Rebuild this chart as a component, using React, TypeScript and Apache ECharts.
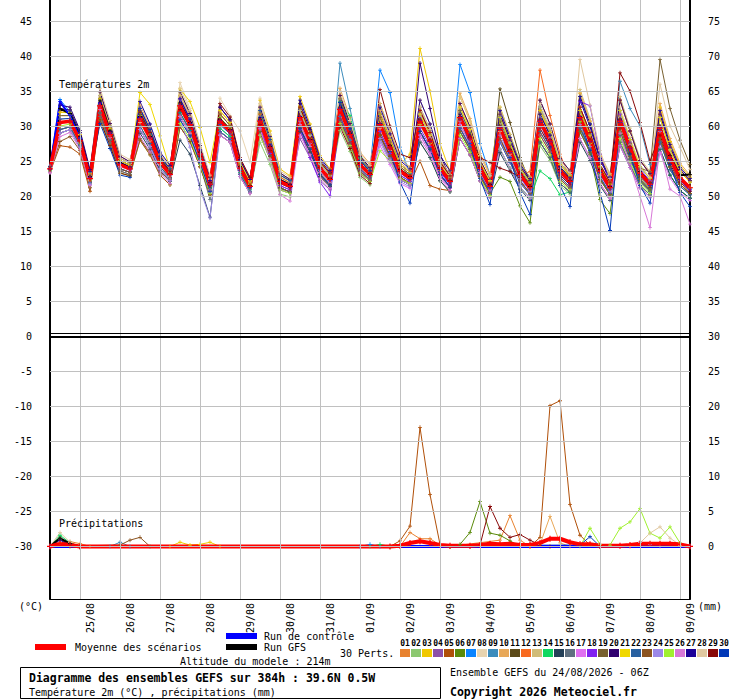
import React, { useEffect, useRef } from "react";
import * as echarts from "echarts";

const FONT = '"DejaVu Sans Mono", "Liberation Mono", monospace';

// x axis: 65 steps of 6h from 24/08 06Z
const dates = ["25/08","26/08","27/08","28/08","29/08","30/08","31/08","01/09","02/09","03/09","04/09","05/09","06/09","07/09","08/09","09/09"];

// horizontal grid values on the temperature axis
const tempGrid = [45,40,35,30,25,20,15,10,5,-5,-10,-15,-20,-25,-30];

const pertColors = ["#e8822f","#8cc870","#f0c800","#8c50a8","#b04f08","#5a8a0a","#0a84ff","#e8d4b0","#3c8cbc","#e8a858","#5c4a18","#f86a20","#d0bc78","#10d860","#244058","#607080","#e070f0","#8020f0","#786030","#300070","#f0d800","#2860a0","#8c5420","#9c88e8","#a0f030","#d878d8","#1c0098","#e0c8a0","#880808","#0038b8"];

// ---- Temperature 2m (°C) ----
const tMean = [23.9, 30.5,30.7,27.9,22.5, 32.9,28.8,24.5,23.9, 31.0,28.3,24.8,23.1, 32.9,30.2,26.0,21.7, 30.7,29.3,24.0,21.4, 30.7,26.9,22.1,21.4, 31.2,27.9,24.0,22.4, 32.4,28.8,24.5,23.1, 30.2,26.9,23.6,22.6, 30.7,27.9,24.0,22.1, 31.2,28.3,24.0,21.4, 29.7,26.4,23.1,21.2, 30.7,27.9,23.6,22.1, 31.2,27.9,23.6,21.2, 30.7,26.9,23.3,21.7, 29.7,25.4,22.6,21.2];
const tCtrl = [23.9, 33.5,31.5,28.3,22.6, 33.2,29.0,24.6,23.9, 31.2,28.4,24.9,23.1, 33.0,30.3,26.0,21.6, 30.8,29.4,24.0,21.3, 30.8,26.9,22.0,21.3, 31.3,27.9,23.9,22.3, 32.5,28.8,24.4,23.0, 30.3,26.9,23.5,22.4, 30.8,27.8,23.8,21.9, 31.3,28.2,23.8,21.2, 29.8,26.3,22.9,21.0, 30.8,27.8,23.4,21.9, 31.3,27.8,23.4,21.0, 30.8,26.8,23.1,21.5, 29.8,25.2,22.4,20.9];
const tGfs = [24.0, 32.5,31.8,28.5,22.8, 33.6,29.3,24.8,24.0, 31.4,28.5,25.0,23.3, 33.3,30.5,26.3,21.9, 31.0,29.5,24.2,21.5, 31.0,27.1,22.3,21.6, 31.4,28.1,24.1,22.5, 32.7,29.0,24.6,23.2, 30.4,27.2,23.8,22.8, 31.0,28.0,24.1,22.3, 31.4,28.4,24.1,21.6, 30.0,26.6,23.3,21.4, 31.0,28.0,23.8,22.3, 31.4,28.0,23.8,21.4, 31.0,27.0,23.5,21.9, 30.0,25.8,23.0,23.1];

const t01 = [24.0, 32.0,31.9,28.8,23.3, 34.9,30.4,25.7,24.9, 32.0,29.1,25.4,23.6, 34.4,31.4,26.9,22.5, 32.7,30.9,25.2,22.4, 32.2,28.1,23.0,22.2, 30.2,27.1,23.4,21.9, 33.9,30.0,25.4,23.9, 33.2,29.3,25.4,24.1, 32.2,29.1,24.9,22.9, 31.2,28.3,24.0,21.4, 31.7,28.0,24.3,22.2, 33.7,30.3,25.4,23.6, 32.7,29.1,24.5,22.0, 29.2,25.7,22.4,20.9, 31.2,26.6,23.5,22.0];
const t02 = [23.6, 29.0,29.5,27.0,21.7, 30.9,27.2,23.3,22.9, 28.0,25.9,23.0,21.6, 31.4,29.0,25.1,20.9, 29.2,28.1,23.1,20.6, 27.7,24.5,20.3,19.9, 29.7,26.7,23.1,21.6, 29.4,26.4,22.7,21.6, 28.2,25.3,22.4,21.6, 27.7,25.5,22.2,20.6, 29.7,27.1,23.1,20.6, 26.7,24.0,21.3,19.7, 27.2,25.1,21.5,20.3, 28.2,25.5,21.8,19.7, 28.7,25.3,22.1,20.7, 26.7,23.0,20.8,19.7];
const t03 = [24.2, 32.5,32.3,29.1,23.5, 34.4,30.0,25.4,24.7, 32.5,29.5,25.7,23.9, 34.9,31.8,27.2,22.7, 32.2,30.5,24.9,22.2, 33.7,29.3,23.9,22.9, 34.2,30.3,25.8,23.9, 34.4,30.4,25.7,24.1, 31.7,28.1,24.5,26.0, 41.1,35.0,27.5,23.5, 34.2,30.7,25.8,22.9, 32.7,28.8,24.9,22.7, 32.7,29.5,24.8,23.1, 34.7,30.7,25.7,23.0, 33.7,29.3,25.1,23.2, 32.7,27.8,24.4,22.7];
const t04 = [23.5, 29.5,29.9,27.3,22.0, 31.9,28.0,23.9,23.4, 29.5,27.1,23.9,22.3, 30.9,28.6,24.8,20.7, 28.7,27.7,22.8,20.4, 29.7,26.1,21.5,20.9, 28.2,25.5,22.2,20.9, 33.4,29.6,25.1,23.6, 28.7,25.7,22.7,21.8, 28.7,26.3,22.8,21.1, 30.2,27.5,23.4,20.9, 28.2,25.2,22.2,20.4, 30.7,27.9,23.6,22.1, 32.2,28.7,24.2,21.7, 29.2,25.7,22.4,20.9, 28.2,24.2,21.7,20.4];
const t05 = [23.4, 27.2,27.0,26.0,20.7, 31.4,27.6,23.6,23.1, 28.0,25.9,23.0,21.6, 29.9,27.8,24.2,20.2, 29.2,28.1,23.1,20.6, 29.2,25.7,21.2,20.6, 29.2,26.3,22.8,21.4, 30.4,27.2,23.3,22.1, 28.7,25.7,22.7,21.8, 25.0,21.5,21.0,20.8, 28.2,25.9,22.2,19.9, 28.2,25.2,22.2,20.4, 29.2,26.7,22.7,21.3, 29.2,26.3,22.4,20.2, 28.7,25.3,22.1,20.7, 28.2,24.2,21.7,20.4];
const t06 = [23.8, 30.5,30.7,27.9,22.5, 33.9,29.6,25.1,24.4, 31.0,28.3,24.8,23.1, 31.4,29.0,25.1,20.9, 30.7,29.3,24.0,21.4, 31.7,27.7,22.7,21.9, 30.2,27.1,23.4,21.9, 31.4,28.0,23.9,22.6, 28.7,25.7,22.7,21.8, 29.2,26.7,23.1,21.3, 29.2,26.7,22.8,20.4, 22.7,22.1,18.6,16.2, 27.7,25.5,21.8,20.6, 30.5,26.0,19.5,17.5, 27.7,24.5,21.5,20.2, 28.2,24.2,21.7,20.4];
const t07 = [24.3, 33.8,32.0,28.8,23.4, 34.4,30.0,25.4,24.7, 32.0,29.1,25.4,23.6, 33.9,31.0,26.6,22.2, 31.7,30.1,24.6,21.9, 32.2,28.1,23.0,22.2, 32.2,28.7,24.6,22.9, 33.9,30.0,25.4,23.9, 38.0,34.8,27.0,23.2, 32.2,29.1,24.9,22.9, 38.8,34.8,27.5,23.0, 31.2,27.6,24.0,22.0, 32.7,29.5,24.8,23.1, 34.2,30.3,25.4,22.7, 32.2,28.1,24.2,22.5, 31.2,26.6,23.5,22.0];
const t08 = [24.1, 31.5,31.5,28.5,23.0, 33.9,29.6,25.1,24.4, 32.5,29.5,25.7,23.9, 36.2,32.5,27.5,22.4, 34.0,31.5,29.3,24.9, 34.0,28.5,23.0,22.0, 32.2,28.7,24.6,22.9, 33.9,30.0,25.4,23.9, 31.2,27.7,24.2,23.1, 32.2,29.1,24.9,22.9, 32.7,29.5,24.9,22.2, 31.7,28.0,24.3,22.2, 31.7,28.7,24.2,22.6, 32.7,29.1,24.5,22.0, 32.7,28.5,24.5,22.7, 31.7,27.0,23.8,22.2];
const t09 = [23.9, 30.5,30.7,27.9,22.5, 32.9,28.8,24.5,23.9, 32.0,29.1,25.4,23.6, 32.9,30.2,26.0,21.7, 29.7,28.5,23.4,20.9, 30.7,26.9,22.1,21.4, 32.2,28.7,24.6,22.9, 39.0,32.5,26.0,23.5, 31.7,28.1,24.5,23.4, 31.7,28.7,24.6,22.6, 32.2,29.1,24.6,21.9, 31.2,27.6,24.0,22.0, 30.7,27.9,23.6,22.1, 32.2,28.7,24.2,21.7, 36.4,32.5,30.0,24.5, 29.7,25.4,22.6,21.2];
const t10 = [24.0, 31.5,31.5,28.5,23.0, 34.4,30.0,25.4,24.7, 33.0,29.9,26.0,24.1, 33.9,31.0,26.6,22.2, 31.7,30.1,24.6,21.9, 32.7,28.5,23.3,22.4, 32.7,29.1,24.9,23.2, 35.4,31.2,26.3,24.6, 32.2,28.5,24.8,23.6, 33.7,30.3,25.8,23.6, 34.7,31.1,26.1,23.2, 31.7,28.0,24.3,22.2, 32.2,29.1,24.5,22.9, 34.7,30.7,25.7,23.0, 33.7,29.3,25.1,23.2, 33.2,28.2,24.7,23.0];
const t11 = [23.8, 30.5,30.7,27.9,22.5, 33.9,29.6,25.1,24.4, 30.0,27.5,24.2,22.6, 31.9,29.4,25.4,21.2, 30.7,29.3,24.0,21.4, 29.2,25.7,21.2,20.6, 29.7,26.7,23.1,21.6, 31.4,28.0,23.9,22.6, 28.7,25.7,22.7,21.8, 30.7,27.9,24.0,22.1, 29.7,27.1,23.1,20.6, 35.3,30.5,25.5,22.0, 31.7,28.7,24.2,22.6, 29.7,26.7,22.7,20.4, 29.7,26.1,22.7,21.2, 29.7,25.4,22.6,21.2];
const t12 = [23.9, 29.5,29.9,27.3,22.0, 32.9,28.8,24.5,23.9, 32.0,29.1,25.4,23.6, 31.4,29.0,25.1,20.9, 31.7,30.1,24.6,21.9, 31.7,27.7,22.7,21.9, 32.7,29.1,24.9,23.2, 34.4,30.4,25.7,24.1, 31.2,27.7,24.2,23.1, 32.2,29.1,24.9,22.9, 33.2,29.9,25.2,22.4, 29.6,26.4,23.0,23.5, 38.0,31.5,26.0,22.5, 32.7,29.1,24.5,22.0, 33.7,29.3,25.1,23.2, 31.7,27.0,23.8,22.2];
const t13 = [24.0, 31.5,31.5,28.5,23.0, 34.4,30.0,25.4,24.7, 31.0,28.3,24.8,23.1, 34.4,31.4,26.9,22.5, 32.2,30.5,24.9,22.2, 32.7,28.5,23.3,22.4, 32.2,28.7,24.6,22.9, 33.9,30.0,25.4,23.9, 33.2,29.3,25.4,24.1, 31.7,28.7,24.6,22.6, 32.7,29.5,24.9,22.2, 32.7,28.8,24.9,22.7, 32.7,29.5,24.8,23.1, 35.2,31.1,26.0,23.2, 34.2,29.7,25.4,23.5, 31.2,26.6,23.5,22.0];
const t14 = [23.7, 29.0,29.5,27.0,21.7, 31.9,28.0,23.9,23.4, 29.5,27.1,23.9,22.3, 31.9,29.4,25.4,21.2, 29.7,28.5,23.4,20.9, 29.2,25.7,21.2,20.6, 29.7,26.7,23.1,21.6, 33.5,31.5,25.5,23.0, 28.2,25.3,22.4,21.6, 29.2,26.7,23.1,21.3, 29.2,26.7,22.8,20.4, 26.7,24.0,21.3,19.7, 23.6,22.5,20.2,20.6, 29.2,26.3,22.4,20.2, 29.2,25.7,22.4,20.9, 26.7,23.0,20.8,19.7];
const t15 = [23.6, 29.0,29.5,27.0,21.7, 31.9,28.0,23.9,23.4, 29.0,26.7,23.6,22.1, 28.0,26.0,21.5,17.0, 29.2,28.1,23.1,20.6, 28.7,25.3,20.9,20.4, 29.2,26.3,22.8,21.4, 30.9,27.6,23.6,22.3, 28.2,25.3,22.4,21.6, 27.7,25.5,22.2,20.6, 28.2,25.9,22.2,19.9, 26.2,23.6,21.0,19.4, 27.7,25.5,21.8,20.6, 27.7,25.1,21.5,19.4, 27.2,24.1,21.2,19.9, 26.7,23.0,20.8,19.7];
const t16 = [23.7, 29.5,29.9,27.3,22.0, 31.4,27.6,23.6,23.1, 29.5,27.1,23.9,22.3, 31.5,28.8,24.5,19.5, 29.2,28.1,23.1,20.6, 29.2,25.7,21.2,20.6, 29.7,26.7,23.1,21.6, 30.4,27.2,23.3,22.1, 29.2,26.1,23.0,22.1, 29.2,26.7,23.1,21.3, 29.2,26.7,22.8,20.4, 28.2,25.2,22.2,20.4, 27.7,25.5,21.8,20.6, 29.7,26.7,22.7,20.4, 27.7,24.5,21.5,20.2, 27.7,23.8,21.4,20.2];
const t17 = [23.4, 29.0,29.5,27.0,21.7, 31.9,28.0,23.9,23.4, 29.5,27.1,23.9,22.3, 31.4,29.0,25.1,20.9, 29.2,28.1,23.1,20.6, 28.7,25.3,20.9,20.4, 30.2,27.1,23.4,21.9, 31.4,28.0,23.9,22.6, 27.2,24.5,21.8,21.1, 28.7,26.3,22.8,21.1, 28.2,25.9,22.2,19.9, 27.7,24.8,21.9,20.2, 28.7,26.3,22.4,21.1, 28.2,25.5,21.8,19.7, 27.2,24.1,21.2,19.9, 26.2,22.6,20.5,19.4];
const t18 = [23.8, 30.5,30.7,27.9,22.5, 32.9,28.8,24.5,23.9, 31.0,28.3,24.8,23.1, 33.9,31.0,26.6,22.2, 30.7,29.3,24.0,21.4, 29.7,26.1,21.5,20.9, 29.5,25.5,22.0,20.0, 30.9,27.6,23.6,22.3, 29.2,26.1,23.0,22.1, 29.7,27.1,23.4,21.6, 29.7,27.1,23.1,20.6, 29.7,26.4,23.1,21.2, 30.7,27.9,23.6,22.1, 33.5,32.9,26.0,21.5, 31.7,27.7,23.9,22.2, 29.7,25.4,22.6,21.2];
const t19 = [23.9, 31.5,31.5,28.5,23.0, 33.9,29.6,25.1,24.4, 32.0,29.1,25.4,23.6, 32.9,30.2,26.0,21.7, 31.7,30.1,24.6,21.9, 30.7,26.9,22.1,21.4, 32.7,29.1,24.9,23.2, 33.9,30.0,25.4,23.9, 31.2,27.7,24.2,23.1, 32.7,29.5,25.2,23.1, 32.2,29.1,24.6,21.9, 30.7,27.2,23.7,21.7, 32.2,29.1,24.5,22.9, 32.2,28.7,24.2,21.7, 31.0,27.5,24.0,23.5, 39.5,32.5,28.0,24.5];
const t20 = [24.1, 33.0,32.7,29.4,23.8, 34.9,30.4,25.7,24.9, 32.5,29.5,25.7,23.9, 34.9,31.8,27.2,22.7, 32.7,30.9,25.2,22.4, 32.7,28.5,23.3,22.4, 33.2,29.5,25.2,23.4, 34.4,30.4,25.7,24.1, 31.7,28.1,24.5,23.4, 39.0,32.5,26.0,22.6, 33.2,29.9,25.2,22.4, 31.7,28.0,24.3,22.2, 33.7,30.3,25.4,23.6, 34.2,30.3,25.4,22.7, 33.7,29.3,25.1,23.2, 31.7,27.0,23.8,22.2];
const t21 = [24.2, 32.0,31.9,28.8,23.3, 33.9,29.6,25.1,24.4, 34.8,33.1,28.6,23.9, 35.3,33.5,29.8,24.8, 32.2,30.5,24.9,22.2, 32.2,28.1,23.0,22.2, 32.7,29.1,24.9,23.2, 33.4,29.6,25.1,23.6, 31.7,28.1,24.5,23.4, 31.7,28.7,24.6,22.6, 32.7,29.5,24.9,22.2, 31.2,27.6,24.0,22.0, 32.2,29.1,24.5,22.9, 32.2,28.7,24.2,21.7, 32.2,28.1,24.2,22.5, 31.2,26.6,23.5,22.0];
const t22 = [23.8, 29.5,29.9,27.3,22.0, 31.9,28.0,23.9,23.4, 30.0,27.5,24.2,22.6, 31.9,29.4,25.4,21.2, 29.2,28.1,23.1,20.6, 29.2,25.7,21.2,20.6, 29.7,26.7,23.1,21.6, 31.4,28.0,23.9,22.6, 28.2,25.3,22.4,21.6, 29.2,26.7,23.1,21.3, 29.7,27.1,23.1,20.6, 27.7,24.8,21.9,20.2, 29.2,26.7,22.7,21.3, 29.7,26.7,22.7,20.4, 28.7,25.3,22.1,20.7, 27.7,23.8,21.4,20.2];
const t23 = [23.5, 27.8,28.5,26.5,21.2, 31.9,28.0,23.9,23.4, 28.2,26.2,23.4,22.4, 29.9,27.8,24.2,20.2, 28.7,27.7,22.8,20.4, 29.2,25.7,21.2,20.6, 29.7,26.7,23.1,21.6, 30.9,27.6,23.6,22.3, 28.7,25.7,22.7,21.8, 29.2,26.7,23.1,21.3, 29.2,26.7,22.8,20.4, 28.2,25.2,22.2,20.4, 28.7,26.3,22.4,21.1, 29.2,26.3,22.4,20.2, 29.2,25.7,22.4,20.9, 28.2,24.2,21.7,20.4];
const t24 = [23.5, 29.0,29.5,27.0,21.7, 33.4,29.2,24.8,24.2, 29.5,27.1,23.9,22.3, 31.0,27.0,21.0,16.9, 28.7,27.7,22.8,20.4, 31.2,27.3,22.4,21.7, 30.7,27.5,23.7,22.2, 32.4,28.8,24.5,23.1, 27.7,24.9,22.1,21.3, 31.2,28.3,24.3,22.4, 30.7,27.9,23.7,21.2, 28.7,25.6,22.5,20.7, 31.2,28.3,23.9,22.4, 30.2,27.1,23.0,20.7, 30.7,26.9,23.3,21.7, 29.2,25.0,22.3,21.0];
const t25 = [23.6, 30.0,30.3,27.6,22.3, 30.9,27.2,23.3,22.9, 31.5,28.7,25.1,23.4, 30.4,28.2,24.5,20.4, 31.2,29.7,24.3,21.7, 28.7,25.3,20.9,20.4, 31.2,27.9,24.0,22.4, 30.4,27.2,23.3,22.1, 26.5,25.0,22.5,21.8, 30.2,27.5,23.7,21.9, 28.7,26.3,22.5,20.1, 29.7,26.4,23.1,21.2, 28.2,25.9,22.1,20.9, 30.7,27.5,23.3,21.0, 28.2,24.9,21.8,20.4, 29.7,25.4,22.6,21.2];
const t26 = [23.3, 28.5,29.1,26.7,21.5, 32.4,28.4,24.2,23.7, 28.5,26.3,23.3,21.8, 32.9,30.2,26.0,21.7, 28.7,27.7,22.8,20.4, 29.6,25.2,20.2,19.3, 28.7,25.9,22.5,21.1, 32.4,28.8,24.5,23.1, 28.2,25.3,22.4,21.6, 28.2,25.9,22.5,20.8, 30.2,27.5,23.4,20.9, 26.7,24.0,21.3,19.7, 29.7,27.1,23.0,21.6, 28.2,25.5,21.8,19.7, 29.0,24.5,20.0,15.5, 27.0,21.0,20.0,16.0];
const t27 = [24.2, 32.5,32.3,29.1,23.5, 33.4,29.2,24.8,24.2, 33.5,30.3,26.3,24.4, 33.9,31.0,26.6,22.2, 32.7,30.9,25.2,22.4, 31.2,27.3,22.4,21.7, 33.7,29.9,25.5,23.7, 33.4,29.6,25.1,23.6, 32.7,28.9,25.1,23.9, 33.7,30.3,25.8,23.6, 31.7,28.7,24.3,21.7, 32.2,28.4,24.6,22.5, 31.7,28.7,24.2,22.6, 33.7,29.9,25.1,22.5, 31.2,27.3,23.6,22.0, 32.2,27.4,24.1,22.5];
const t28 = [24.1, 31.0,31.1,28.2,22.8, 35.4,30.8,26.0,25.2, 30.5,27.9,24.5,22.8, 35.4,32.2,27.5,23.0, 30.2,28.9,23.7,21.2, 33.2,28.9,23.6,22.7, 31.2,27.9,24.0,22.4, 34.9,30.8,26.0,24.4, 29.7,26.5,23.3,22.4, 32.7,29.5,25.2,23.1, 34.2,30.7,25.8,22.9, 29.2,26.0,22.8,21.0, 33.2,29.9,25.1,23.4, 39.5,33.0,26.5,22.5, 31.2,27.3,23.6,22.0, 36.0,30.0,27.0,23.8];
const t29 = [23.9, 30.5,30.7,27.9,22.5, 30.9,27.2,23.3,22.9, 32.0,29.1,25.4,23.6, 32.4,29.8,25.7,21.5, 33.2,31.3,25.5,22.7, 30.2,26.5,21.8,21.2, 32.7,29.1,24.9,23.2, 29.9,26.8,23.0,21.8, 35.2,30.0,26.0,25.5, 32.2,29.1,24.9,22.9, 31.3,28.5,25.5,24.8, 24.0,23.5,22.7,21.4, 29.7,27.1,23.0,21.6, 32.7,29.1,24.5,22.0, 37.6,35.0,30.5,25.0, 28.7,24.6,22.0,20.7];
const t30 = [23.8, 31.0,31.1,28.2,22.8, 30.4,26.8,23.0,22.7, 32.5,29.5,25.7,23.9, 30.9,28.6,24.8,20.7, 30.2,28.9,23.7,21.2, 32.2,28.1,23.0,22.2, 29.7,26.7,23.1,21.6, 33.4,29.6,25.1,23.6, 30.0,26.4,22.0,19.0, 29.2,26.7,23.1,21.3, 31.0,27.5,22.5,18.8, 29.5,25.5,20.5,17.4, 30.5,27.0,21.5,18.5, 31.0,26.5,20.5,15.1, 30.5,26.0,21.5,19.0, 29.5,24.5,20.5,18.5];

// ---- Precipitation (mm), [step index, value] with zeros between ----
const rMean = [[0,0],[1,0.4],[2,0.2],[3,0],[34,0],[35,0.1],[36,0.5],[37,0.75],[38,0.5],[39,0.2],[40,0.1],[42,0.1],[43,0.2],[44,0.4],[45,0.3],[46,0.4],[47,0.2],[48,0.2],[49,0.5],[50,1.1],[51,1.1],[52,0.6],[53,0.3],[54,0.3],[55,0.1],[57,0.1],[58,0.2],[59,0.4],[60,0.4],[61,0.4],[62,0.4],[63,0.3],[64,0]];
const rCtrl = [[0,0],[64,0]];
const rGfs = [[0,0],[1,1.2],[2,0.4],[3,0],[64,0]];
const r01 = [[0,0],[1,0.5],[2,0.7],[3,0.4],[4,0],[35,0],[36,2.0],[37,1.1],[38,1.1],[39,0.2],[40,0],[45,0.9],[46,4.4],[47,0.9],[48,0],[64,0]];
const r02 = [[0,0],[64,0]];
const r03 = [[0,0],[12,0],[13,0.6],[14,0.2],[15,0.3],[16,0.6],[17,0],[64,0]];
const r04 = [[0,0],[64,0]];
const r05 = [[0,0],[34,0],[35,0.8],[36,2.9],[37,17.0],[38,7.4],[39,0.3],[40,0],[48,0],[49,1.3],[50,20.1],[51,20.8],[52,6.0],[53,1.6],[54,0.2],[55,0],[64,0]];
const r06 = [[0,0],[1,1.2],[2,0],[40,0],[41,0.3],[42,2.0],[43,6.4],[44,1.9],[45,1.6],[46,0.8],[47,0],[64,0]];
const r07 = [[0,0],[31,0],[32,0.3],[33,0],[64,0]];
const r08 = [[0,0],[64,0]];
const r09 = [[0,0],[6,0],[7,0.6],[8,0],[64,0]];
const r10 = [[0,0],[48,0],[49,0.3],[50,4.3],[51,0.5],[52,0],[64,0]];
const r11 = [[0,0],[1,1.0],[2,0.3],[3,0],[64,0]];
const r12 = [[0,0],[64,0]];
const r13 = [[0,0],[64,0]];
const r14 = [[0,0],[1,1.6],[2,0.5],[3,0],[32,0],[33,0.3],[34,0],[64,0]];
const r15 = [[0,0],[64,0]];
const r16 = [[0,0],[64,0]];
const r17 = [[0,0],[64,0]];
const r18 = [[0,0],[64,0]];
const r19 = [[0,0],[64,0]];
const r20 = [[0,0],[64,0]];
const r21 = [[0,0],[64,0]];
const r22 = [[0,0],[64,0]];
const r23 = [[0,0],[7,0.2],[8,0.9],[9,1.3],[10,0],[64,0]];
const r24 = [[0,0],[58,0],[59,0.6],[60,0.3],[61,0],[64,0]];
const r25 = [[0,0],[53,0],[54,2.6],[55,0.3],[56,0.2],[57,2.6],[58,3.5],[59,5.4],[60,1.9],[61,1.2],[62,2.8],[63,0.5],[64,0]];
const r26 = [[0,0],[64,0]];
const r27 = [[0,0],[1,0.9],[2,0.2],[3,0],[64,0]];
const r28 = [[0,0],[1,2.0],[2,0.6],[3,0],[58,0],[59,0.5],[60,1.9],[61,2.8],[62,1.2],[63,0.2],[64,0]];
const r29 = [[0,0],[42,0],[43,0.2],[44,5.7],[45,2.6],[46,1.3],[47,1.7],[48,0.9],[49,0.2],[50,0],[64,0]];
const r30 = [[0,0],[53,0.2],[54,1.4],[55,0],[64,0]];

const temps = [t01,t02,t03,t04,t05,t06,t07,t08,t09,t10,t11,t12,t13,t14,t15,t16,t17,t18,t19,t20,t21,t22,t23,t24,t25,t26,t27,t28,t29,t30];
const rains = [r01,r02,r03,r04,r05,r06,r07,r08,r09,r10,r11,r12,r13,r14,r15,r16,r17,r18,r19,r20,r21,r22,r23,r24,r25,r26,r27,r28,r29,r30];

const PLUS = "path://M2,0H3V2H5V3H3V5H2V3H0V2H2Z";
const GRID_GRAY = "#c0c0c0";

function isMult5(v: number) {
  return Math.abs(v / 5 - Math.round(v / 5)) < 1e-6;
}

function lineSeries(name: string, data: any, color: string, width: number, yAxisIndex: number, size: number) {
  return {
    type: "line",
    name,
    data,
    yAxisIndex,
    silent: true,
    symbol: PLUS,
    symbolSize: size,
    showSymbol: true,
    showAllSymbol: true,
    lineStyle: { color, width },
    itemStyle: { color },
    emphasis: { disabled: true },
  };
}

function buildOption() {
  const n = tMean.length;
  const cats = Array.from({ length: n }, (_, i) => "T" + i * 6);
  const dayLines = cats.filter((_, i) => i % 4 === 3);
  const series: any[] = [];

  // grid lines + separator (drawn under everything)
  series.push({
    type: "line",
    name: "grid",
    data: [],
    yAxisIndex: 0,
    silent: true,
    markLine: {
      silent: true,
      symbol: ["none", "none"],
      label: { show: false },
      animation: false,
      lineStyle: { color: GRID_GRAY, width: 1, type: "solid" },
      data: [
        ...tempGrid.map((v) => ({ yAxis: v })),
        ...dayLines.map((c) => ({ xAxis: c })),
        { yAxis: 0, lineStyle: { color: "#000", width: 2, type: "solid" } },
        { yAxis: 0.42, lineStyle: { color: "#000", width: 1, type: "solid" } },
      ],
    },
  });

  rains.forEach((d, k) => series.push(lineSeries("r" + k, d, pertColors[k], 1, 1, 4)));
  temps.forEach((d, k) => series.push(lineSeries("t" + k, d, pertColors[k], 1, 0, 4)));
  series.push(lineSeries("gfsR", rGfs, "#000000", 2, 1, 4));
  series.push(lineSeries("gfsT", tGfs, "#000000", 2, 0, 4));
  series.push(lineSeries("ctrlR", rCtrl, "#0000ff", 3, 1, 4));
  series.push(lineSeries("ctrlT", tCtrl, "#0000ff", 2, 0, 4));
  series.push(lineSeries("meanR", rMean, "#ff0000", 4, 1, 6));
  series.push(lineSeries("meanT", tMean, "#ff0000", 3.5, 0, 6));

  const txt = (x: number, y: number, text: string, font: string, extra: any = {}) => ({
    type: "text",
    x,
    y,
    silent: true,
    z: 100,
    style: {
      text,
      font,
      fill: "#000",
      align: "left",
      verticalAlign: "middle",
      textAlign: "left",
      textVerticalAlign: "middle",
      ...extra,
    },
  });
  const F10 = "10px " + FONT;
  const graphic: any[] = [
    txt(59, 84, "Températures 2m", F10),
    txt(59, 523, "Précipitations", F10),
    txt(19, 606, "(°C)", F10),
    txt(698, 606, "(mm)", F10),
    { type: "rect", silent: true, shape: { x: 35, y: 644, width: 31, height: 6 }, style: { fill: "#ff0000" } },
    txt(75, 647, "Moyenne des scénarios", F10),
    { type: "rect", silent: true, shape: { x: 226, y: 633, width: 31, height: 6 }, style: { fill: "#0000ff" } },
    txt(264, 636, "Run de contrôle", F10),
    { type: "rect", silent: true, shape: { x: 226, y: 644, width: 31, height: 6 }, style: { fill: "#000000" } },
    txt(264, 647, "Run GFS", F10),
    txt(340, 653, "30 Perts.", F10),
    txt(180, 661, "Altitude du modele : 214m", F10),
    { type: "rect", silent: true, shape: { x: 20.5, y: 667.5, width: 420, height: 31 }, style: { fill: "none", stroke: "#000", lineWidth: 1 } },
    txt(29, 678, "Diagramme des ensembles GEFS sur 384h : 39.6N 0.5W", "bold 11.5px " + FONT),
    txt(29, 692, "Température 2m (°C) , précipitations (mm)", F10),
    txt(450, 672, "Ensemble GEFS du 24/08/2026 - 06Z", F10),
    txt(450, 692, "Copyright 2026 Meteociel.fr", "bold 11.5px " + FONT),
  ];
  pertColors.forEach((c, k) => {
    const x = 400 + k * 11;
    graphic.push({ type: "rect", silent: true, shape: { x, y: 649, width: 10, height: 8 }, style: { fill: c } });
    graphic.push(txt(x + 5, 643, String(k + 1).padStart(2, "0"), "bold 8px " + FONT, { align: "center", textAlign: "center" }));
  });

  return {
    animation: false,
    backgroundColor: "#ffffff",
    textStyle: { fontFamily: FONT },
    grid: { left: 50, right: 50, top: 0, bottom: 101, containLabel: false },
    xAxis: {
      type: "category",
      data: cats,
      boundaryGap: false,
      axisLine: { show: true, onZero: false, lineStyle: { color: "#000", width: 1 } },
      axisTick: { show: false },
      axisLabel: {
        interval: 0,
        rotate: 90,
        fontSize: 10,
        fontFamily: FONT,
        color: "#000",
        margin: 4,
        formatter: (_v: string, i: number) => (i % 4 === 0 && i > 0 ? dates[i / 4 - 1] : ""),
      },
      splitLine: { show: false },
    },
    yAxis: [
      {
        type: "value",
        position: "left",
        min: -37.5,
        max: 48,
        interval: 2.5,
        axisLine: { show: true, onZero: false, lineStyle: { color: "#000", width: 2 } },
        axisTick: { show: false },
        splitLine: { show: false },
        axisLabel: {
          fontSize: 10,
          fontFamily: FONT,
          color: "#000",
          margin: 18,
          formatter: (v: number) => (isMult5(v) && v >= -30 && v <= 45 ? String(Math.round(v)) : ""),
        },
      },
      {
        type: "value",
        position: "right",
        min: -7.5,
        max: 78,
        interval: 2.5,
        axisLine: { show: true, onZero: false, lineStyle: { color: "#000", width: 2 } },
        axisTick: { show: false },
        splitLine: { show: false },
        axisLabel: {
          fontSize: 10,
          fontFamily: FONT,
          color: "#000",
          margin: 18,
          formatter: (v: number) => (isMult5(v) && v >= 0 && v <= 75 ? String(Math.round(v)) : ""),
        },
      },
    ],
    series,
    graphic,
  };
}

export default function App() {
  const ref = useRef<HTMLDivElement>(null);
  useEffect(() => {
    if (!ref.current) return;
    const chart = echarts.init(ref.current, null, { renderer: "svg" });
    chart.setOption(buildOption() as any);
    return () => chart.dispose();
  }, []);
  return (
    <div
      ref={ref}
      style={{ position: "fixed", left: 0, top: 0, width: 740, height: 700, background: "#fff" }}
    />
  );
}
